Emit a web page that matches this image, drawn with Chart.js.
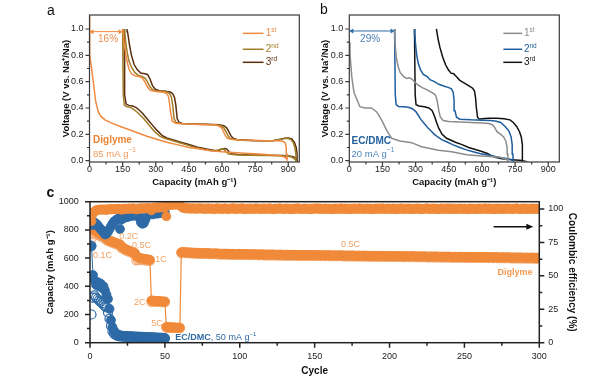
<!DOCTYPE html>
<html><head><meta charset="utf-8">
<script src="https://cdn.jsdelivr.net/npm/chart.js@4.4.1/dist/chart.umd.min.js"></script>
<style>
html,body{margin:0;padding:0;background:#fff}
body{width:600px;height:381px;position:relative;overflow:hidden;font-family:'Liberation Sans',Arial,sans-serif}
canvas{position:absolute}
.lt{position:absolute;font-size:14px;line-height:14px;color:#111}
</style></head><body>
<canvas id="ca" width="305" height="190" style="left:0;top:0"></canvas>
<canvas id="cb" width="300" height="190" style="left:300px;top:0"></canvas>
<canvas id="cc" width="600" height="196" style="left:0;top:185px"></canvas>
<div class="lt" style="left:47px;top:3px">a</div>
<div class="lt" style="left:320px;top:1.5px">b</div>
<div class="lt" style="left:46.5px;top:185px;font-weight:bold">c</div>
<script>
const FONT = "'Liberation Sans', Arial, sans-serif";
Chart.defaults.font.family = FONT;

// ---------- Panel a (Diglyme, 85 mA g-1) ----------
const a1DisCap = [0, 0, 2, 8, 17, 28, 40, 50, 70, 100, 140, 180, 220, 260, 300, 350, 400, 450, 500, 550, 600, 650, 700, 750, 800, 850, 880, 893, 895];
const a1DisV   = [1.10, 0.82, 0.80, 0.72, 0.60, 0.45, 0.37, 0.34, 0.31, 0.285, 0.26, 0.235, 0.21, 0.185, 0.165, 0.14, 0.12, 0.10, 0.088, 0.076, 0.068, 0.062, 0.057, 0.052, 0.047, 0.04, 0.03, 0.015, 0.0];
const a1ChCap  = [895, 894, 891, 886, 875, 850, 800, 740, 680, 640, 625, 615, 607, 598, 585, 560, 500, 440, 390, 375, 368, 362, 357, 350, 335, 300, 275, 262, 250, 240, 225, 205, 190, 180, 172, 165, 158, 153, 150];
const a1ChV    = [0.0, 0.05, 0.1, 0.135, 0.148, 0.152, 0.152, 0.155, 0.158, 0.163, 0.17, 0.19, 0.22, 0.25, 0.265, 0.272, 0.275, 0.278, 0.285, 0.3, 0.36, 0.44, 0.49, 0.51, 0.52, 0.525, 0.535, 0.56, 0.6, 0.625, 0.64, 0.645, 0.66, 0.69, 0.74, 0.8, 0.88, 0.95, 1.0];
const a2DisCap = [150, 151, 153, 158, 170, 185, 200, 215, 230, 245, 260, 275, 290, 305, 320, 340, 370, 400, 440, 480, 520, 555, 575, 590, 600, 610, 620, 630, 660, 720, 800, 870, 900, 915, 925, 932, 935];
const a2DisV   = [1.0, 0.8, 0.5, 0.42, 0.41, 0.405, 0.39, 0.37, 0.345, 0.32, 0.29, 0.26, 0.23, 0.205, 0.185, 0.17, 0.155, 0.14, 0.12, 0.1, 0.085, 0.075, 0.075, 0.085, 0.09, 0.085, 0.065, 0.05, 0.045, 0.042, 0.04, 0.038, 0.034, 0.028, 0.018, 0.008, 0.0];
const a2ChCap  = [935, 934, 930, 922, 910, 895, 880, 860, 830, 790, 740, 690, 655, 637, 627, 618, 608, 595, 570, 520, 460, 410, 392, 383, 377, 371, 365, 355, 330, 300, 285, 272, 262, 252, 238, 220, 205, 190, 178, 170, 164, 160, 157];
const a2ChV    = [0.0, 0.05, 0.1, 0.14, 0.162, 0.17, 0.168, 0.16, 0.152, 0.15, 0.152, 0.156, 0.16, 0.168, 0.19, 0.22, 0.25, 0.265, 0.272, 0.275, 0.278, 0.282, 0.29, 0.32, 0.42, 0.48, 0.505, 0.52, 0.527, 0.53, 0.54, 0.565, 0.6, 0.625, 0.64, 0.65, 0.67, 0.71, 0.76, 0.83, 0.9, 0.96, 1.0];
const a3DisCap = [157, 158, 160, 166, 178, 195, 210, 225, 240, 255, 270, 285, 300, 315, 330, 350, 380, 410, 450, 490, 530, 565, 585, 600, 612, 622, 632, 642, 670, 730, 810, 875, 905, 922, 932, 938, 941];
const a3DisV   = [1.0, 0.8, 0.5, 0.43, 0.42, 0.415, 0.405, 0.385, 0.36, 0.33, 0.30, 0.27, 0.24, 0.215, 0.19, 0.172, 0.158, 0.143, 0.123, 0.103, 0.088, 0.078, 0.077, 0.088, 0.093, 0.088, 0.068, 0.053, 0.047, 0.044, 0.042, 0.04, 0.036, 0.03, 0.02, 0.009, 0.0];
const a3ChCap  = [941, 940, 936, 928, 916, 900, 885, 865, 835, 795, 745, 700, 668, 650, 640, 631, 621, 608, 585, 530, 470, 420, 405, 397, 391, 385, 378, 368, 345, 315, 298, 285, 274, 263, 250, 232, 217, 202, 190, 181, 175, 172, 170];
const a3ChV    = [0.0, 0.05, 0.1, 0.14, 0.165, 0.172, 0.17, 0.162, 0.154, 0.152, 0.153, 0.157, 0.161, 0.17, 0.19, 0.22, 0.25, 0.266, 0.273, 0.276, 0.279, 0.283, 0.292, 0.32, 0.42, 0.48, 0.505, 0.52, 0.528, 0.532, 0.542, 0.57, 0.62, 0.655, 0.66, 0.665, 0.69, 0.73, 0.8, 0.88, 0.95, 0.98, 1.0];

// ---------- Panel b (EC/DMC, 20 mA g-1) ----------
const b1DisCap = [0, 3, 11, 21, 33, 48, 71, 100, 124, 146, 169, 192, 229, 282, 327, 403, 463, 531, 600, 682, 705, 718];
const b1DisV   = [0.9, 0.815, 0.64, 0.52, 0.47, 0.41, 0.40, 0.40, 0.37, 0.31, 0.23, 0.17, 0.15, 0.137, 0.106, 0.08, 0.068, 0.045, 0.035, 0.026, 0.015, 0.0];
const b1ChCap  = [718, 717, 714, 708, 698, 685, 668, 655, 645, 630, 600, 550, 500, 450, 425, 412, 405, 398, 392, 385, 370, 350, 330, 310, 295, 283, 272, 260, 245, 230, 220, 213, 209, 206, 205];
const b1ChV    = [0.0, 0.05, 0.1, 0.15, 0.18, 0.2, 0.22, 0.26, 0.275, 0.283, 0.287, 0.29, 0.293, 0.297, 0.305, 0.33, 0.38, 0.45, 0.49, 0.505, 0.52, 0.54, 0.555, 0.575, 0.6, 0.62, 0.63, 0.625, 0.64, 0.67, 0.72, 0.78, 0.85, 0.93, 1.0];
const b2DisCap = [205, 206, 208, 212, 222, 245, 267, 285, 300, 312, 325, 340, 355, 370, 385, 400, 420, 445, 470, 500, 530, 560, 590, 620, 650, 680, 705, 725, 735, 741];
const b2DisV   = [1.0, 0.8, 0.5, 0.425, 0.412, 0.41, 0.405, 0.395, 0.375, 0.345, 0.31, 0.28, 0.25, 0.225, 0.2, 0.18, 0.158, 0.14, 0.12, 0.1, 0.082, 0.068, 0.055, 0.045, 0.035, 0.025, 0.018, 0.01, 0.005, 0.0];
const b2ChCap  = [741, 740, 737, 732, 722, 705, 685, 665, 640, 600, 550, 500, 485, 478, 474, 470, 462, 450, 430, 405, 385, 365, 352, 345, 335, 322, 312, 305, 300, 297, 295];
const b2ChV    = [0.0, 0.05, 0.12, 0.18, 0.225, 0.26, 0.29, 0.3, 0.305, 0.307, 0.31, 0.315, 0.33, 0.38, 0.46, 0.52, 0.545, 0.555, 0.565, 0.58, 0.6, 0.615, 0.64, 0.645, 0.655, 0.69, 0.74, 0.8, 0.88, 0.95, 1.0];
const b3DisCap = [295, 296, 298, 302, 315, 340, 360, 375, 385, 395, 405, 420, 440, 460, 480, 510, 540, 570, 600, 625, 640, 660, 690, 720, 750, 770, 780, 785];
const b3DisV   = [1.0, 0.8, 0.5, 0.425, 0.415, 0.41, 0.4, 0.38, 0.34, 0.29, 0.245, 0.2, 0.17, 0.155, 0.14, 0.122, 0.1, 0.085, 0.07, 0.055, 0.04, 0.025, 0.015, 0.01, 0.006, 0.004, 0.002, 0.0];
const b3ChCap  = [785, 784, 782, 778, 770, 757, 742, 727, 700, 667, 630, 600, 588, 580, 575, 571, 566, 558, 545, 530, 515, 500, 486, 472, 460, 448, 435, 422, 410, 402, 397, 394];
const b3ChV    = [0.0, 0.06, 0.12, 0.18, 0.22, 0.26, 0.29, 0.31, 0.318, 0.322, 0.322, 0.318, 0.315, 0.33, 0.4, 0.48, 0.53, 0.55, 0.565, 0.58, 0.595, 0.61, 0.635, 0.66, 0.665, 0.69, 0.73, 0.79, 0.86, 0.92, 0.97, 1.0];

// ---------- Panel c (cycling) ----------
const digDis = [
 818, 802, 794, 787, 780, 774, 768, 762, 757, 752,
 738, 731, 726, 721, 717, 713, 709, 705, 701, 698,
 684, 676, 669, 663, 658, 653, 649, 645, 641, 637,
 612, 606, 602, 599, 597, 595, 593, 591, 590, 588,
 300, 298, 297, 296, 295, 294, 294, 293, 292, 292,
 112, 110, 109, 109, 108, 108, 107, 107, 106, 106,
 641, 643, 642, 640, 641, 639, 640, 638, 639, 637,
 638, 636, 637, 635, 636, 634, 635, 636, 634, 633,
 634, 632, 633, 634, 632, 631, 632, 630, 631, 632,
 630, 631, 629, 630, 631, 629, 628, 629, 630, 628,
 629, 627, 628, 629, 627, 628, 626, 627, 628, 626,
 627, 625, 626, 627, 625, 626, 624, 625, 626, 624,
 625, 626, 624, 625, 623, 624, 625, 623, 624, 622,
 623, 624, 622, 623, 624, 622, 623, 621, 622, 623,
 621, 622, 623, 621, 622, 620, 621, 622, 620, 621,
 622, 620, 621, 619, 620, 621, 619, 620, 621, 619,
 620, 618, 619, 620, 618, 619, 620, 618, 619, 617,
 618, 619, 617, 618, 619, 617, 618, 616, 617, 618,
 616, 617, 618, 616, 617, 615, 616, 617, 615, 616,
 617, 615, 616, 614, 615, 616, 614, 615, 616, 614,
 615, 613, 614, 615, 613, 614, 615, 613, 614, 612,
 613, 614, 612, 613, 614, 612, 613, 611, 612, 613,
 611, 612, 613, 611, 612, 610, 611, 612, 610, 611,
 612, 610, 611, 609, 610, 611, 609, 610, 611, 609,
 610, 608, 609, 610, 608, 609, 610, 608, 609, 607,
 608, 609, 607, 608, 609, 607, 608, 606, 607, 608,
 606, 607, 608, 606, 607, 605, 606, 607, 605, 606,
 607, 605, 606, 604, 605, 606, 604, 605, 606, 604,
 605, 603, 604, 605, 603, 604, 605, 603, 604, 602,
 603, 604, 602, 603, 604, 602, 603, 601, 602, 603];
const digCha = [
 742, 770, 774, 771, 766, 761, 756, 751, 746, 741,
 728, 723, 719, 714, 710, 706, 702, 698, 695, 692,
 672, 667, 661, 656, 651, 646, 642, 638, 634, 630,
 585, 588, 590, 589, 588, 586, 585, 584, 583, 582,
 290, 292, 292, 291, 291, 290, 290, 289, 289, 288,
 108, 108, 107, 107, 106, 106, 105, 105, 105, 104,
 636, 638, 638, 636, 637, 635, 636, 634, 635, 633,
 634, 632, 633, 631, 632, 630, 631, 632, 630, 629,
 630, 628, 629, 630, 628, 627, 628, 626, 627, 628,
 626, 627, 625, 626, 627, 625, 624, 625, 626, 624,
 625, 623, 624, 625, 623, 624, 622, 623, 624, 622,
 623, 621, 622, 623, 621, 622, 620, 621, 622, 620,
 621, 622, 620, 621, 619, 620, 621, 619, 620, 618,
 619, 620, 618, 619, 620, 618, 619, 617, 618, 619,
 617, 618, 619, 617, 618, 616, 617, 618, 616, 617,
 618, 616, 617, 615, 616, 617, 615, 616, 617, 615,
 616, 614, 615, 616, 614, 615, 616, 614, 615, 613,
 614, 615, 613, 614, 615, 613, 614, 612, 613, 614,
 612, 613, 614, 612, 613, 611, 612, 613, 611, 612,
 613, 611, 612, 610, 611, 612, 610, 611, 612, 610,
 611, 609, 610, 611, 609, 610, 611, 609, 610, 608,
 609, 610, 608, 609, 610, 608, 609, 607, 608, 609,
 607, 608, 609, 607, 608, 606, 607, 608, 606, 607,
 608, 606, 607, 605, 606, 607, 605, 606, 607, 605,
 606, 604, 605, 606, 604, 605, 606, 604, 605, 603,
 604, 605, 603, 604, 605, 603, 604, 602, 603, 604,
 602, 603, 604, 602, 603, 601, 602, 603, 601, 602,
 603, 601, 602, 600, 601, 602, 600, 601, 602, 600,
 601, 599, 600, 601, 599, 600, 601, 599, 600, 598,
 599, 600, 598, 599, 600, 598, 599, 597, 598, 599];
const digCE = [
 91.0, 96.5, 98.2, 99.0, 99.3, 99.5, 99.6, 99.4, 99.7, 99.6,
 99.2, 99.8, 99.9, 99.7, 100.0, 99.8, 100.1, 99.9, 100.2, 100.0,
 99.4, 100.1, 100.3, 100.0, 100.2, 100.4, 100.1, 100.3, 100.5, 100.2,
 99.6, 100.3, 100.5, 100.2, 100.6, 100.4, 100.3, 100.7, 100.5, 100.6,
 99.0, 100.8, 101.0, 100.9, 101.2, 101.0, 101.3, 101.1, 101.4, 101.2,
 94.5, 102.8, 103.2, 103.0, 103.4, 103.1, 103.5, 103.3, 103.2, 103.6,
 101.8, 100.9, 100.6, 100.4, 100.7, 100.3, 100.5, 100.2, 100.6, 100.4,
 100.1, 100.5, 100.3, 100.6, 100.2, 100.4, 100.0, 100.3, 100.5, 100.1,
 100.4, 100.2, 99.9, 100.3, 100.5, 100.1, 100.4, 100.0, 100.2, 100.5,
 100.3, 99.9, 100.1, 100.4, 100.2, 100.6, 100.0, 100.3, 100.1, 100.4,
 100.2, 100.5, 99.8, 100.1, 100.3, 100.0, 100.4, 100.2, 99.9, 100.3,
 100.5, 100.1, 100.3, 99.9, 100.2, 100.4, 100.0, 100.3, 100.1, 100.5,
 100.2, 99.8, 100.1, 100.4, 100.0, 100.3, 100.5, 100.1, 99.9, 100.2,
 100.4, 100.1, 100.3, 99.8, 100.2, 100.0, 100.4, 100.2, 100.5, 100.1,
 99.9, 100.3, 100.1, 100.4, 100.0, 100.2, 99.8, 100.3, 100.1, 100.4,
 100.2, 100.5, 100.0, 100.3, 99.9, 100.1, 100.4, 100.2, 100.0, 100.3,
 100.1, 99.8, 100.2, 100.4, 100.0, 100.3, 100.1, 100.5, 99.9, 100.2,
 100.4, 100.0, 100.2, 99.8, 100.3, 100.1, 100.4, 100.0, 100.2, 100.5,
 100.1, 100.3, 99.9, 100.2, 100.4, 100.0, 100.3, 100.1, 99.8, 100.2,
 100.4, 100.1, 100.3, 100.0, 100.5, 100.2, 99.9, 100.3, 100.1, 100.4,
 100.0, 100.2, 100.4, 99.8, 100.1, 100.3, 100.0, 100.5, 100.2, 99.9,
 100.3, 100.1, 100.4, 100.0, 100.2, 99.9, 100.3, 100.1, 100.4, 100.2,
 99.8, 100.2, 100.0, 100.3, 100.5, 100.1, 99.9, 100.2, 100.4, 100.0,
 100.3, 100.1, 99.8, 100.2, 100.4, 100.0, 100.3, 100.1, 100.5, 99.9,
 100.2, 100.4, 100.0, 100.3, 99.9, 100.1, 100.4, 100.2, 100.0, 100.3,
 100.1, 99.8, 100.2, 100.4, 100.0, 100.3, 100.1, 99.9, 100.2, 100.4,
 100.0, 100.3, 100.1, 100.5, 99.9, 100.2, 100.4, 100.0, 100.2, 99.8,
 100.3, 100.1, 100.4, 100.0, 100.2, 99.9, 100.3, 100.1, 100.4, 100.2,
 99.9, 100.2, 100.0, 100.3, 100.5, 100.1, 99.8, 100.2, 100.4, 100.0,
 100.3, 100.1, 99.9, 100.2, 100.4, 100.0, 100.3, 100.1, 100.2, 99.9];
const ecDis = [690, 480, 440, 410, 430, 400, 420, 390, 400, 370, 340, 310, 240, 160, 110, 85, 70, 62, 56, 52,
 50, 49, 48, 47, 47, 46, 46, 45, 45, 44, 44, 43, 43, 42, 42, 41, 41, 40, 40, 39,
 39, 38, 38, 37, 37, 36, 36, 35, 35, 34];
const ecCha = [200, 320, 335, 320, 310, 300, 290, 280, 270, 260, 250, 215, 170, 120, 80, 65, 55, 50, 47, 45,
 44, 43, 43, 42, 42, 41, 41, 40, 40, 39, 39, 38, 38, 37, 37, 36, 36, 35, 35, 34,
 34, 33, 33, 32, 32, 31, 31, 30, 30, 29];
const ecCE = [72, 88, 90, 89, 88, 86.5, 85, 84, 82.5, 81, 81.5, 83, 85, 87, 89, 90.5, 91.5, 92, 93, 85,
 92, 93, 93.5, 94, 94, 94.5, 95, 95, 95, 95.5, 95.5, 95, 93, 90, 89, 89.5, 92, 95, 96, 96,
 96.5, 96, 96.5, 97, 96.5, 97, 97, 97.5, 97, 97.5];

const capTicks = [0, 150, 300, 450, 600, 750, 900];
const voltTicks = [0, 0.2, 0.4, 0.6, 0.8, 1.0];
const cycleTicks = [0, 50, 100, 150, 200, 250, 300];
const capCTicks = [0, 200, 400, 600, 800, 1000];
const ceTicks = [0, 25, 50, 75, 100];

// ---------- helpers ----------
function xy(cap, v) { return cap.map((c, i) => ({x: c, y: v[i]})); }
function cycle(dc, dv, cc, cv) { return xy(dc.concat(cc.slice(1)), dv.concat(cv.slice(1))); }
function byCycle(vals) { return vals.map((v, i) => ({x: i + 1, y: v})); }

const framePlugin = {
  id: 'frame',
  afterDraw(chart, args, o) {
    const {ctx, chartArea: a} = chart;
    ctx.save();
    ctx.strokeStyle = o.color; ctx.lineWidth = o.width;
    ctx.beginPath();
    (o.ticks || []).forEach(t => {
      const s = chart.scales[t.axis];
      for (let k = 0; ; k++) {
        const v = t.from + k * t.step;
        if (v > t.to + 1e-9) break;
        const r = v / t.major;
        const len = Math.abs(r - Math.round(r)) < 1e-6 ? t.lenMajor : t.lenMinor;
        const p = s.getPixelForValue(v);
        if (t.side === 'bottom') { ctx.moveTo(p, a.bottom); ctx.lineTo(p, a.bottom + len); }
        else if (t.side === 'left') { ctx.moveTo(a.left, p); ctx.lineTo(a.left - len, p); }
        else { ctx.moveTo(a.right, p); ctx.lineTo(a.right + len, p); }
      }
    });
    ctx.stroke();
    ctx.strokeRect(a.left, a.top, a.right - a.left, a.bottom - a.top);
    ctx.restore();
  }
};

const notesPlugin = {
  id: 'notes',
  afterDatasetsDraw(chart, args, o) {
    const ctx = chart.ctx, xs = chart.scales.x;
    ctx.save();
    (o.segments || []).forEach(s => {
      const y = chart.scales[s.axis || 'y'].getPixelForValue(s.y);
      ctx.strokeStyle = s.color; ctx.lineWidth = s.width;
      ctx.beginPath(); ctx.moveTo(xs.getPixelForValue(s.x1), y); ctx.lineTo(xs.getPixelForValue(s.x2), y); ctx.stroke();
    });
    (o.arrows || []).forEach(a => {
      const y = chart.scales[a.axis || 'y'].getPixelForValue(a.y);
      const x1 = xs.getPixelForValue(a.x1), x2 = xs.getPixelForValue(a.x2);
      ctx.strokeStyle = a.color; ctx.fillStyle = a.color; ctx.lineWidth = a.width;
      ctx.beginPath(); ctx.moveTo(x1 + (a.both ? a.hl * 0.8 : 0), y); ctx.lineTo(x2 - a.hl * 0.8, y); ctx.stroke();
      const head = (xt, dir) => {
        ctx.beginPath(); ctx.moveTo(xt, y); ctx.lineTo(xt - dir * a.hl, y - a.hw); ctx.lineTo(xt - dir * a.hl, y + a.hw);
        ctx.closePath(); ctx.fill();
      };
      head(x2, 1); if (a.both) head(x1, -1);
    });
    (o.items || []).forEach(it => {
      let px = xs.getPixelForValue(it.x);
      const py = chart.scales[it.axis || 'y'].getPixelForValue(it.y);
      ctx.textBaseline = 'middle'; ctx.textAlign = 'left';
      let total = 0;
      it.parts.forEach(p => { ctx.font = p.font; total += ctx.measureText(p.text).width; });
      if (it.align === 'center') px -= total / 2; else if (it.align === 'right') px -= total;
      it.parts.forEach(p => {
        ctx.font = p.font; ctx.fillStyle = p.color || it.color;
        ctx.fillText(p.text, px, py + (p.dy || 0));
        px += ctx.measureText(p.text).width;
      });
    });
    ctx.restore();
  }
};

function tickOpts(size, pad, cb) {
  return {font: {family: FONT, size: size}, color: '#222', padding: pad, autoSkip: false, maxRotation: 0,
          includeBounds: false, callback: cb};
}
const noGrid = {display: false, drawTicks: false};

function supLabel(x, y, main, sup, color) {
  return {x: x, y: y, color: color, parts: [{text: main, font: '10px ' + FONT}, {text: sup, font: '6.5px ' + FONT, dy: -3.5}]};
}

function voltageChart(id, curves, colors, pad, notes) {
  return new Chart(document.getElementById(id), {
    type: 'scatter',
    data: {datasets: curves.map((d, i) => ({data: d, showLine: true, borderColor: colors[i], borderWidth: 1.5,
      pointRadius: 0, pointHoverRadius: 0, fill: false, tension: 0}))},
    options: {
      responsive: false, animation: false, devicePixelRatio: 1,
      layout: {padding: pad},
      events: [],
      plugins: {legend: {display: false}, tooltip: {enabled: false},
        frame: {color: '#3a3a3a', width: 1.2, ticks: [
          {axis: 'x', side: 'bottom', from: 0, to: 900, step: 75, major: 150, lenMajor: 4, lenMinor: 2.5},
          {axis: 'y', side: 'left', from: 0, to: 1.0, step: 0.1, major: 0.2, lenMajor: 4, lenMinor: 2.5}]},
        notes: notes},
      scales: {
        x: {type: 'linear', min: 0, max: 950, afterFit: s => { s.height = 26.4; },
          afterBuildTicks: s => { s.ticks = capTicks.map(v => ({value: v})); },
          grid: noGrid, border: {display: false},
          ticks: tickOpts(9, 2, v => String(v)),
          title: {display: true, text: 'Capacity (mAh g\u207B\u00B9)', color: '#111', padding: 0,
                  font: {family: FONT, size: 9.5, weight: 'bold'}}},
        y: {type: 'linear', min: -0.01, max: 1.1063, afterFit: s => { s.width = pad.yw; },
          afterBuildTicks: s => { s.ticks = voltTicks.map(v => ({value: v})); },
          grid: noGrid, border: {display: false},
          ticks: tickOpts(9, 6, v => v.toFixed(1)),
          title: {display: true, text: 'Voltage (V vs. Na\u207A/Na)', color: '#111', padding: 0,
                  font: {family: FONT, size: 9.5, weight: 'bold'}}}
      }
    },
    plugins: [framePlugin, notesPlugin]
  });
}

// Panel a
const aColors = ['#f08a40', '#a07c22', '#5a2e0e'];
voltageChart('ca', [cycle(a1DisCap, a1DisV, a1ChCap, a1ChV), cycle(a2DisCap, a2DisV, a2ChCap, a2ChV), cycle(a3DisCap, a3DisV, a3ChCap, a3ChV)],
  aColors, {left: 61, top: 15, right: 5.7, bottom: 1.6, yw: 28.5},
  {
    segments: [
      {x1: 694, x2: 788, y: 0.967, color: aColors[0], width: 1.5},
      {x1: 694, x2: 788, y: 0.846, color: aColors[1], width: 1.5},
      {x1: 694, x2: 788, y: 0.747, color: aColors[2], width: 1.5}],
    arrows: [{x1: 0, x2: 150, y: 0.98, color: '#ee8a40', width: 1, hl: 4, hw: 2.5, both: true}],
    items: [
      {x: 84, y: 0.922, align: 'center', color: '#ec9050', parts: [{text: '16%', font: '10px ' + FONT}]},
      {x: 16, y: 0.152, color: '#ea8334', parts: [{text: 'Diglyme', font: 'bold 10px ' + FONT}]},
      {x: 16, y: 0.051, color: '#ee9a5c', parts: [{text: '85 mA g', font: '9.5px ' + FONT}, {text: '\u22121', font: '6.5px ' + FONT, dy: -3.5}]},
      supLabel(798, 0.967, '1', 'st', aColors[0]),
      supLabel(798, 0.846, '2', 'nd', aColors[1]),
      supLabel(798, 0.747, '3', 'rd', aColors[2])]
  });

// Panel b
const bColors = ['#8c8c8c', '#1f5e9e', '#111111'];
voltageChart('cb', [cycle(b1DisCap, b1DisV, b1ChCap, b1ChV), cycle(b2DisCap, b2DisV, b2ChCap, b2ChV), cycle(b3DisCap, b3DisV, b3ChCap, b3ChV)],
  bColors, {left: 19.3, top: 15, right: 40.7, bottom: 1.6, yw: 30},
  {
    segments: [
      {x1: 697, x2: 782, y: 0.967, color: bColors[0], width: 1.5},
      {x1: 697, x2: 782, y: 0.846, color: bColors[1], width: 1.5},
      {x1: 697, x2: 782, y: 0.747, color: bColors[2], width: 1.5}],
    arrows: [{x1: 0, x2: 205, y: 0.985, color: '#2f6aa8', width: 1, hl: 4, hw: 2.5, both: true}],
    items: [
      {x: 94, y: 0.924, align: 'center', color: '#4a80b8', parts: [{text: '29%', font: '10px ' + FONT}]},
      {x: 10, y: 0.144, color: '#23609e', parts: [{text: 'EC/DMC', font: 'bold 10px ' + FONT}]},
      {x: 10, y: 0.051, color: '#4f86bd', parts: [{text: '20 mA g', font: '9.5px ' + FONT}, {text: '\u22121', font: '6.5px ' + FONT, dy: -3.5}]},
      supLabel(790, 0.967, '1', 'st', bColors[0]),
      supLabel(790, 0.846, '2', 'nd', bColors[1]),
      supLabel(790, 0.747, '3', 'rd', bColors[2])]
  });

// Panel c
const OR = '#f08a3a', ORL = '#f4ad78', BL = '#2d6aa6';
const rateFont = '9px ' + FONT, rateColor = '#f2a062';
new Chart(document.getElementById('cc'), {
  type: 'scatter',
  data: {datasets: [
    {data: byCycle(digCE), yAxisID: 'y2', pointRadius: 4.5, pointBackgroundColor: OR, pointBorderColor: OR, pointBorderWidth: 0.8, clip: 0},
    {data: byCycle(ecCE), yAxisID: 'y2', pointRadius: 4.5, pointBackgroundColor: BL, pointBorderColor: BL, pointBorderWidth: 0.8, clip: 0},
    {data: byCycle(digDis), yAxisID: 'y', showLine: true, borderColor: OR, borderWidth: 1.2, pointRadius: 4.5,
     pointBackgroundColor: OR, pointBorderColor: OR, pointBorderWidth: 0.8, clip: 0},
    {data: byCycle(digCha), yAxisID: 'y', pointRadius: 4.6, pointBackgroundColor: 'rgba(255,255,255,0)', pointBorderColor: ORL, pointBorderWidth: 1.2, clip: 0},
    {data: byCycle(ecDis), yAxisID: 'y', showLine: true, borderColor: BL, borderWidth: 1, pointRadius: 4.5,
     pointBackgroundColor: BL, pointBorderColor: BL, pointBorderWidth: 0.8, clip: 0},
    {data: byCycle(ecCha), yAxisID: 'y', pointRadius: 4.5, pointBackgroundColor: 'rgba(255,255,255,0)', pointBorderColor: BL, pointBorderWidth: 1.2, clip: 0}
  ]},
  options: {
    responsive: false, animation: false, devicePixelRatio: 1, events: [],
    layout: {padding: {left: 45, top: 10.7, right: 22.3, bottom: 3.3}},
    plugins: {legend: {display: false}, tooltip: {enabled: false},
      frame: {color: '#222', width: 1.5, ticks: [
        {axis: 'x', side: 'bottom', from: 0, to: 300, step: 25, major: 50, lenMajor: 5, lenMinor: 3},
        {axis: 'y', side: 'left', from: 0, to: 1000, step: 100, major: 200, lenMajor: 5, lenMinor: 3},
        {axis: 'y2', side: 'right', from: 0, to: 100, step: 12.5, major: 25, lenMajor: 5, lenMinor: 3}]},
      notes: {
        arrows: [{x1: 269.5, x2: 296, y: 86.8, axis: 'y2', color: '#111', width: 1.5, hl: 7, hw: 3, both: false}],
        items: [
          {x: 2, y: 619, color: rateColor, parts: [{text: '0.1C', font: rateFont}]},
          {x: 19.5, y: 752, color: rateColor, parts: [{text: '0.2C', font: rateFont}]},
          {x: 28, y: 692, color: rateColor, parts: [{text: '0.5C', font: rateFont}]},
          {x: 43.5, y: 590, color: rateColor, parts: [{text: '1C', font: rateFont}]},
          {x: 37, y: 286, align: 'right', color: rateColor, parts: [{text: '2C', font: rateFont}]},
          {x: 48.5, y: 133, align: 'right', color: rateColor, parts: [{text: '5C', font: rateFont}]},
          {x: 174, y: 694, align: 'center', color: rateColor, parts: [{text: '0.5C', font: rateFont}]},
          {x: 295.5, y: 495, align: 'right', color: '#f09a55', parts: [{text: 'Diglyme', font: 'bold 9px ' + FONT}]},
          {x: 57, y: 39, color: '#2f6aa5', parts: [{text: 'EC/DMC', font: 'bold 9px ' + FONT}, {text: ', 50 mA g', font: '9px ' + FONT}, {text: '\u22121', font: '6px ' + FONT, dy: -3}]}
        ]}
    },
    scales: {
      x: {type: 'linear', min: 0, max: 300, afterFit: s => { s.height = 35; },
        afterBuildTicks: s => { s.ticks = cycleTicks.map(v => ({value: v})); },
        grid: noGrid, border: {display: false}, ticks: tickOpts(9, 8.6, v => String(v)),
        title: {display: true, text: 'Cycle', color: '#111', padding: 0, font: {family: FONT, size: 10, weight: 'bold'}}},
      y: {type: 'linear', position: 'left', min: 0, max: 1000, afterFit: s => { s.width = 45; },
        afterBuildTicks: s => { s.ticks = capCTicks.map(v => ({value: v})); },
        grid: noGrid, border: {display: false}, ticks: tickOpts(9, 11.3, v => String(v)),
        title: {display: true, text: 'Capacity (mAh g\u207B\u00B9)', color: '#111', padding: 0, font: {family: FONT, size: 9.5, weight: 'bold'}}},
      y2: {type: 'linear', position: 'right', min: 0, max: 105.45, afterFit: s => { s.width = 38.4; },
        afterBuildTicks: s => { s.ticks = ceTicks.map(v => ({value: v})); },
        grid: noGrid, border: {display: false}, ticks: tickOpts(9, 9, v => String(v)),
        title: {display: true, text: 'Coulombic efficiency (%)', color: '#111', padding: 0, font: {family: FONT, size: 10, weight: 'bold'}}}
    }
  },
  plugins: [framePlugin, notesPlugin]
});
</script>
</body></html>
